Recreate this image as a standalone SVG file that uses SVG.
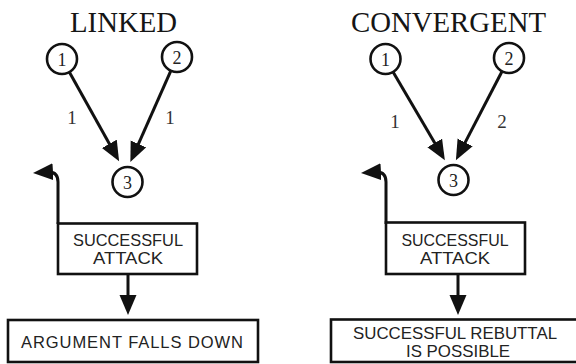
<svg xmlns="http://www.w3.org/2000/svg" width="576" height="364" viewBox="0 0 576 364">
  <style>
    .title { font-family: "Liberation Serif", "Times New Roman", serif; font-size: 28.5px; fill: #151515; text-anchor: middle; }
    .num { font-family: "Liberation Serif", "Times New Roman", serif; font-size: 18px; fill: #222; text-anchor: middle; }
    .lbl { font-family: "Liberation Serif", "Times New Roman", serif; font-size: 19px; fill: #333; text-anchor: middle; }
    .box { font-family: "Liberation Sans", Arial, sans-serif; font-size: 16.5px; fill: #222; text-anchor: middle; }
    .node circle { fill: #fff; stroke: #111; stroke-width: 2.6; }
    .node rect { fill: #fff; stroke: #111; stroke-width: 2.6; }
    .edge { fill: none; stroke: #111; stroke-width: 3; marker-end: url(#head); }
  </style>
  <defs>
    <marker id="head" markerUnits="userSpaceOnUse" markerWidth="22" markerHeight="18" refX="12" refY="8.5" orient="auto">
      <path d="M0,0 L20,8.5 L0,17 Z" fill="#111"/>
    </marker>
  </defs>

  <rect width="576" height="364" fill="#fff"/>

  <!-- section titles -->
  <text class="title" x="123.5" y="32" textLength="107" lengthAdjust="spacingAndGlyphs">LINKED</text>
  <text class="title" x="448.5" y="32" textLength="195" lengthAdjust="spacingAndGlyphs">CONVERGENT</text>

  <!-- connectors -->
  <g id="connectors">
    <!-- linked -->
    <path class="edge" d="M69.3,72.1 L115.2,154.3"/>
    <path class="edge" d="M170.9,70.7 L133.6,154.8"/>
    <path class="edge" d="M58,224 V182 C58,175 55,172 49,172 L41,172.5"/>
    <path class="edge" d="M128,274 V307"/>
    <!-- convergent -->
    <path class="edge" d="M393.1,71.9 L440.8,153.3"/>
    <path class="edge" d="M502.1,71.3 L459.6,153.1"/>
    <path class="edge" d="M386,224 V182 C386,175 383,172 377,172 L369,172.5"/>
    <path class="edge" d="M458,274 V307"/>
  </g>

  <!-- edge weights -->
  <text class="lbl" x="72" y="124">1</text>
  <text class="lbl" x="170" y="124">1</text>
  <text class="lbl" x="395" y="128">1</text>
  <text class="lbl" x="502" y="128">2</text>

  <!-- linked argument -->
  <g id="l-p1" class="node">
    <circle cx="62" cy="59" r="15"/>
    <text class="num" x="62" y="65.5">1</text>
  </g>
  <g id="l-p2" class="node">
    <circle cx="177" cy="57" r="15"/>
    <text class="num" x="177" y="63.5">2</text>
  </g>
  <g id="l-c3" class="node">
    <circle cx="127.5" cy="182" r="15"/>
    <text class="num" x="127.5" y="188.5">3</text>
  </g>
  <g id="l-attack" class="node">
    <rect x="58" y="223.5" width="139" height="50.5"/>
    <text class="box" x="128" y="246" textLength="110" lengthAdjust="spacingAndGlyphs">SUCCESSFUL</text>
    <text class="box" x="128" y="264" textLength="70" lengthAdjust="spacingAndGlyphs">ATTACK</text>
  </g>
  <g id="l-result" class="node">
    <rect x="8" y="320" width="250" height="42"/>
    <text class="box" x="132" y="348" textLength="222" lengthAdjust="spacing">ARGUMENT FALLS DOWN</text>
  </g>

  <!-- convergent argument -->
  <g id="c-p1" class="node">
    <circle cx="385.5" cy="59" r="15"/>
    <text class="num" x="385.5" y="65.5">1</text>
  </g>
  <g id="c-p2" class="node">
    <circle cx="509" cy="58" r="15"/>
    <text class="num" x="509" y="64.5">2</text>
  </g>
  <g id="c-c3" class="node">
    <circle cx="453.5" cy="180" r="15"/>
    <text class="num" x="453.5" y="186.5">3</text>
  </g>
  <g id="c-attack" class="node">
    <rect x="386" y="222.5" width="139" height="51.5"/>
    <text class="box" x="455" y="246" textLength="107" lengthAdjust="spacingAndGlyphs">SUCCESSFUL</text>
    <text class="box" x="455" y="264" textLength="70" lengthAdjust="spacingAndGlyphs">ATTACK</text>
  </g>
  <g id="c-result" class="node">
    <rect x="331" y="319.5" width="260" height="42.5"/>
    <text class="box" x="455" y="339" textLength="204" lengthAdjust="spacingAndGlyphs">SUCCESSFUL REBUTTAL</text>
    <text class="box" x="458" y="356.5" textLength="104" lengthAdjust="spacingAndGlyphs">IS POSSIBLE</text>
  </g>
</svg>
